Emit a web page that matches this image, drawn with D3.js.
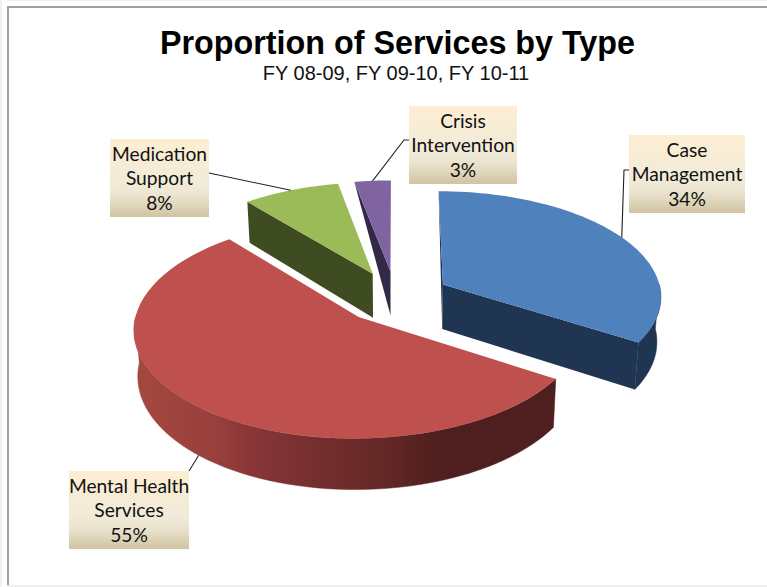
<!DOCTYPE html>
<html>
<head>
<meta charset="utf-8">
<title>Proportion of Services by Type</title>
<script src="https://cdn.jsdelivr.net/npm/d3@7"></script>
<style>
html,body{margin:0;padding:0;background:#fff;}
svg{display:block;}
</style>
</head>
<body>
<script>
// Service mix, clockwise from twelve o'clock
const categories = ["Case Management", "Mental Health Services", "Medication Support", "Crisis Intervention"];
const shares = [34, 55, 8, 3];
const labelLines = [["Case", "Management"], ["Mental Health", "Services"], ["Medication", "Support"], ["Crisis", "Intervention"]];
const topColors = ["#4f81bd", "#be504d", "#9bbb59", "#8064a2"];
const faceColors = ["#1f3552", "#4d1f1e", "#3f4b21", "#322848"];
const chartTitle = "Proportion of Services by Type";
const chartSubtitle = "FY 08-09, FY 09-10, FY 10-11";

const W = 767, H = 587;
const svg = d3.select("body").append("svg").attr("width", W).attr("height", H);
const defs = svg.append("defs");

// Page frame
const frame = svg.append("g");
frame.append("rect").attr("x", 0).attr("y", 0).attr("width", 2).attr("height", H).attr("fill", "#f0f0f0");
frame.append("rect").attr("x", 7).attr("y", 0).attr("width", W - 7).attr("height", 1).attr("fill", "#f0f0f0");
frame.append("rect").attr("x", 7).attr("y", 585).attr("width", W - 7).attr("height", 2).attr("fill", "#efefef");
frame.append("rect").attr("x", 7).attr("y", 6).attr("width", W - 7).attr("height", 2).attr("fill", "#a0a0a0");
frame.append("rect").attr("x", 7).attr("y", 6).attr("width", 2).attr("height", 579).attr("fill", "#a0a0a0");

// Tilted-disc projection: unit-disc coordinates plus drop below the top face
const view = {cx: 395.5, cy: 297, rx: 219, ry: 105, persp: 0.1, depth: 45, shrink: 0.985, explode: 0.25};
function project(px, py, drop) {
  const k = 1 / (1 - view.persp * py);
  const sx = drop ? view.shrink : 1;
  return [view.cx + view.rx * px * k * sx, view.cy + view.ry * py * k + drop * k];
}
const slices = d3.pie().sort(null).value(d => d).startAngle(0).endAngle(2 * Math.PI)(shares);
slices.forEach(s => {
  s.mid = (s.startAngle + s.endAngle) / 2;
  s.ox = Math.sin(s.mid) * view.explode;
  s.oy = -Math.cos(s.mid) * view.explode;
});
const rimPoint = (s, a, drop) => project(s.ox + Math.sin(a), s.oy - Math.cos(a), drop);
const apexPoint = (s, drop) => project(s.ox, s.oy, drop);
const rimArc = (s, a0, a1, drop) => d3.range(0, 61).map(i => rimPoint(s, a0 + (a1 - a0) * i / 60, drop));
const path = d3.line().curve(d3.curveLinear);
const closed = pts => path(pts) + "Z";

// Outer wall shading runs from lit left to dark right
const wallOffsets = [0, 0.2, 0.285, 0.42, 0.57, 0.73, 1];
const wallColors = ["#a5483f", "#983f3c", "#883537", "#772f2f", "#672927", "#4e1f1e", "#4d1f1e"];
const wallGrad = defs.append("linearGradient").attr("id", "wall1")
  .attr("gradientUnits", "userSpaceOnUse").attr("x1", 133).attr("x2", 555).attr("y1", 0).attr("y2", 0);
wallOffsets.forEach((o, i) => wallGrad.append("stop").attr("offset", o).attr("stop-color", wallColors[i]));

const boxGrad = defs.append("linearGradient").attr("id", "boxFill").attr("x1", 0).attr("x2", 0).attr("y1", 0).attr("y2", 1);
[[0, "#fdeed2"], [0.55, "#f1ebd9"], [0.72, "#ebe5d0"], [1, "#d1c3a2"]]
  .forEach(d => boxGrad.append("stop").attr("offset", d[0]).attr("stop-color", d[1]));

const pieG = svg.append("g");
const HALF = Math.PI;
// Back slices first so the large front slice paints last
[3, 2, 0, 1].forEach(i => {
  const s = slices[i];
  const g = pieG.append("g").attr("class", "slice");
  const dark = faceColors[i];
  const wallFill = i === 1 ? "url(#wall1)" : dark;

  // Outer wall exists only on the half of the rim turned to the viewer
  const a0 = Math.max(s.startAngle, HALF / 2), a1 = Math.min(s.endAngle, HALF * 1.5);
  if (a1 > a0) {
    const band = rimArc(s, a0, a1, 0).concat(rimArc(s, a0, a1, view.depth).reverse());
    g.append("path").attr("d", closed(band)).attr("fill", wallFill).attr("stroke", wallFill).attr("stroke-width", 0.5);
  }
  // Cut faces
  const apexTop = apexPoint(s, 0), apexLow = apexPoint(s, view.depth);
  if (i === 0) {
    g.append("path").attr("d", closed([rimPoint(s, s.startAngle, 0), apexTop, apexLow])).attr("fill", dark);
    g.append("path").attr("d", closed([apexTop, rimPoint(s, s.endAngle, 0), rimPoint(s, s.endAngle, view.depth), apexLow])).attr("fill", dark);
  }
  if (i === 2) {
    g.append("path").attr("d", closed([rimPoint(s, s.startAngle, 0), apexTop, apexLow, rimPoint(s, s.startAngle, view.depth)])).attr("fill", dark);
  }
  if (i === 3) {
    g.append("path").attr("d", closed([rimPoint(s, s.startAngle, 0), apexTop, apexLow])).attr("fill", dark);
  }
  // Top face
  const top = [apexTop].concat(rimArc(s, s.startAngle, s.endAngle, 0));
  g.append("path").attr("d", closed(top)).attr("fill", topColors[i]);
});

// Callouts: box placement and the elbow each leader bends through
const boxLeft = [629, 69, 110, 409];
const boxTop = [135, 471, 139, 106];
const boxWidth = [116, 120, 99, 108];
const boxHeight = 78;
const leaderDrop = [0, view.depth, 0, 0];
const leaderElbow = [[624, 170, 629, 170], [189, 471, 189, 471], [209, 173, 209, 173], [404, 140, 409, 140]];

const leaders = svg.append("g").attr("fill", "none").attr("stroke", "#222").attr("stroke-width", 1.1);
slices.forEach((s, i) => {
  const end = rimPoint(s, s.mid, leaderDrop[i]);
  const e = leaderElbow[i];
  leaders.append("path").attr("d", path([end, [e[0], e[1]], [e[2], e[3]]]));
});

const boxes = svg.append("g").style("font-family", "Lato, 'Noto Sans', sans-serif").style("font-size", "19.2px").attr("fill", "#111");
categories.forEach((c, i) => {
  const g = boxes.append("g").attr("class", "callout").attr("transform", `translate(${boxLeft[i]},${boxTop[i]})`);
  g.append("rect").attr("width", boxWidth[i]).attr("height", boxHeight).attr("fill", "url(#boxFill)");
  const lines = labelLines[i].concat([shares[i] + "%"]);
  lines.forEach((t, j) => {
    g.append("text").attr("x", boxWidth[i] / 2).attr("y", 21.5 + j * 24.5).attr("text-anchor", "middle").text(t);
  });
});

// Headings
svg.append("text").attr("x", 397.5).attr("y", 54).attr("text-anchor", "middle")
  .attr("textLength", 475).attr("lengthAdjust", "spacingAndGlyphs")
  .style("font-family", "'Liberation Sans', Arial, sans-serif").style("font-weight", "700").style("font-size", "33px")
  .attr("fill", "#000").text(chartTitle);
svg.append("text").attr("x", 396).attr("y", 80).attr("text-anchor", "middle")
  .style("font-family", "'Liberation Sans', Arial, sans-serif").style("font-size", "20px")
  .attr("fill", "#111").text(chartSubtitle);
</script>
</body>
</html>
